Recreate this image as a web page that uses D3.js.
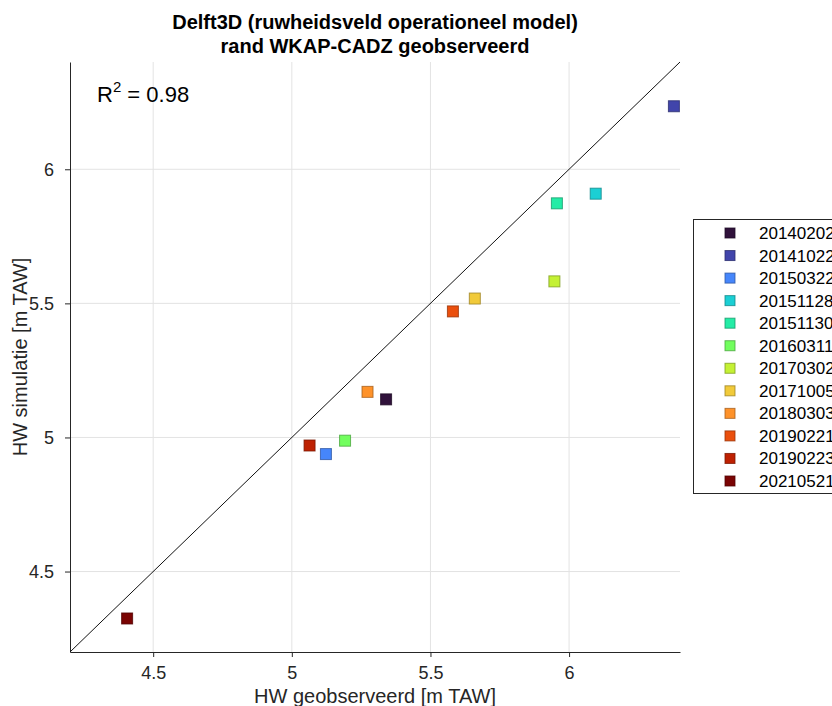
<!DOCTYPE html>
<html><head><meta charset="utf-8">
<script src="https://cdn.jsdelivr.net/npm/d3@7"></script>
<style>body{margin:0;background:#fff;overflow:hidden}svg{display:block;font-family:"Liberation Sans",Arial,sans-serif}</style>
</head><body><svg id="c" width="832" height="706"></svg>
<script>
const dates = ["20140202","20141022","20150322","20151128","20151130","20160311","20170302","20171005","20180303","20190221","20190223","20210521"];
const observed = [5.34,6.378,5.123,6.096,5.956,5.192,5.947,5.66,5.273,5.581,5.064,4.406];
const simulated = [5.142,6.235,4.938,5.909,5.873,4.988,5.582,5.518,5.17,5.47,4.97,4.325];
const colors = ["#30123b","#4145ab","#4686fb","#1bcfd4","#24eca6","#72fe5e","#c4f134","#f1ca3a","#fe922a","#ea4f0d","#be2102","#7a0403"];
const ticks = [4.5,5,5.5,6];
const domain = [4.2,6.4];

const svg = d3.select("#c");
const L=70, R=680, T=62, B=652;
const x = d3.scaleLinear().domain(domain).range([L,R]);
const y = d3.scaleLinear().domain(domain).range([B,T]);

// grid
const g = svg.append("g");
g.selectAll(".gx").data(ticks).join("line").attr("x1",d=>x(d)).attr("x2",d=>x(d)).attr("y1",T).attr("y2",B).attr("stroke","#e3e3e3").attr("stroke-width",1);
g.selectAll(".gy").data(ticks).join("line").attr("y1",d=>y(d)).attr("y2",d=>y(d)).attr("x1",L).attr("x2",R).attr("stroke","#e3e3e3").attr("stroke-width",1);

// axes
const xa = svg.append("g").attr("transform",`translate(0,${B})`).call(d3.axisBottom(x).tickValues(ticks).tickSize(5).tickSizeOuter(0).tickFormat(d3.format("")));
const ya = svg.append("g").attr("transform",`translate(${L},0)`).call(d3.axisLeft(y).tickValues(ticks).tickSize(5).tickSizeOuter(0).tickFormat(d3.format("")));
[xa,ya].forEach(a=>{a.select(".domain").attr("stroke","#262626");a.selectAll(".tick line").attr("stroke","#262626");a.selectAll("text").attr("fill","#262626").attr("font-size",18).attr("font-family","Liberation Sans, Arial, sans-serif");});
xa.selectAll("text").attr("y",27).attr("dy",0);
ya.selectAll("text").attr("x",-16);

// diagonal
svg.append("line").attr("x1",x(domain[0])).attr("y1",y(domain[0])).attr("x2",x(domain[1])).attr("y2",y(domain[1])).attr("stroke","#111").attr("stroke-width",1);

// points
const pts = dates.map((d,i)=>({d,o:observed[i],s:simulated[i],c:colors[i]}));
const sz = 11;
svg.selectAll(".pt").data(pts).join("rect").attr("x",p=>x(p.o)-sz/2).attr("y",p=>y(p.s)-sz/2).attr("width",sz).attr("height",sz)
  .attr("fill",p=>p.c).attr("stroke",p=>d3.color(p.c).darker(1.2)).attr("stroke-opacity",0.8).attr("stroke-width",1);

// title
svg.append("text").attr("x",375).attr("y",29).attr("text-anchor","middle").attr("font-weight","bold").attr("font-size",20).attr("fill","#000").text("Delft3D (ruwheidsveld operationeel model)");
svg.append("text").attr("x",375).attr("y",53).attr("text-anchor","middle").attr("font-weight","bold").attr("font-size",20).attr("fill","#000").text("rand WKAP-CADZ geobserveerd");

// R2
const r2 = svg.append("text").attr("x",97).attr("y",102).attr("font-size",22).attr("fill","#000");
r2.append("tspan").text("R");
r2.append("tspan").attr("dy",-10).attr("font-size",15).text("2");
r2.append("tspan").attr("dy",10).text(" = 0.98");

// axis labels
svg.append("text").attr("x",375).attr("y",703).attr("text-anchor","middle").attr("font-size",20).attr("fill","#262626").text("HW geobserveerd [m TAW]");
svg.append("text").attr("transform",`translate(27,${(T+B)/2}) rotate(-90)`).attr("text-anchor","middle").attr("font-size",20).attr("fill","#262626").text("HW simulatie [m TAW]");

// legend
const lg = svg.append("g");
lg.append("rect").attr("x",693.5).attr("y",219.5).attr("width",160).attr("height",274).attr("fill","#fff").attr("stroke","#262626").attr("stroke-width",1);
const ly = d3.scaleLinear().domain([0,dates.length-1]).range([233,481]);
const items = lg.selectAll(".li").data(pts).join("g").attr("transform",(p,i)=>`translate(0,${ly(i)})`);
items.append("rect").attr("x",725).attr("y",-5).attr("width",10).attr("height",10).attr("fill",p=>p.c).attr("stroke",p=>d3.color(p.c).darker(1.2)).attr("stroke-opacity",0.8);
items.append("text").attr("x",759).attr("y",6).attr("font-size",17).attr("fill","#000").text(p=>p.d);
</script></body></html>
